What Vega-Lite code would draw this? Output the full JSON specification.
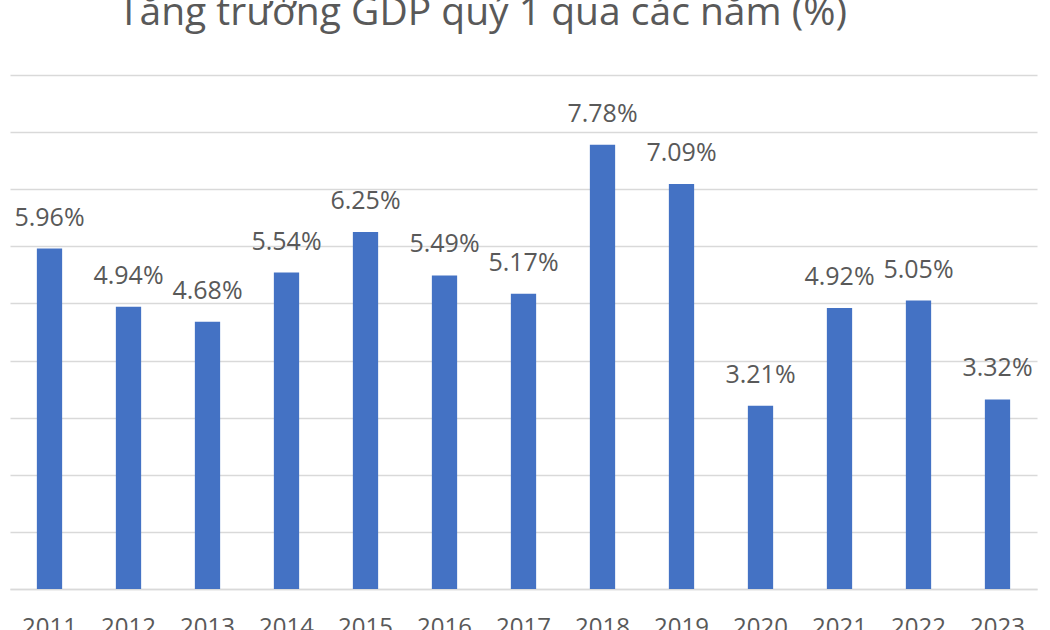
{
  "$schema": "https://vega.github.io/schema/vega-lite/v6.json",
  "width": 1027,
  "height": 514,
  "autosize": {"type": "none"},
  "padding": {"left": 10, "top": 75, "right": 13, "bottom": 41},
  "background": "white",
  "title": {
    "text": "Tăng trưởng GDP quý 1 qua các năm (%)",
    "font": "Open Sans",
    "fontSize": 39,
    "fontWeight": "normal",
    "color": "#595959",
    "anchor": "middle",
    "dx": -41,
    "baseline": "alphabetic",
    "offset": 11
  },
  "config": {"view": {"stroke": null}},
  "data": {
    "values": [
      {"year": "2011", "value": 5.96, "label": "5.96%"},
      {"year": "2012", "value": 4.94, "label": "4.94%"},
      {"year": "2013", "value": 4.68, "label": "4.68%"},
      {"year": "2014", "value": 5.54, "label": "5.54%"},
      {"year": "2015", "value": 6.25, "label": "6.25%"},
      {"year": "2016", "value": 5.49, "label": "5.49%"},
      {"year": "2017", "value": 5.17, "label": "5.17%"},
      {"year": "2018", "value": 7.78, "label": "7.78%"},
      {"year": "2019", "value": 7.09, "label": "7.09%"},
      {"year": "2020", "value": 3.21, "label": "3.21%"},
      {"year": "2021", "value": 4.92, "label": "4.92%"},
      {"year": "2022", "value": 5.05, "label": "5.05%"},
      {"year": "2023", "value": 3.32, "label": "3.32%"}
    ]
  },
  "encoding": {
    "x": {
      "field": "year",
      "type": "ordinal",
      "title": null,
      "scale": {"paddingInner": 0.68, "paddingOuter": 0.34},
      "axis": {
        "labelAngle": 0,
        "labelFont": "Open Sans",
        "labelFontSize": 24,
        "labelColor": "#595959",
        "labelPadding": 26,
        "ticks": false,
        "tickSize": 0,
        "domain": true,
        "domainColor": "#d9d9d9",
        "domainWidth": 1.5,
        "grid": false
      }
    },
    "y": {
      "field": "value",
      "type": "quantitative",
      "title": null,
      "scale": {"domain": [0, 9]},
      "axis": {
        "values": [0, 1, 2, 3, 4, 5, 6, 7, 8, 9],
        "labels": false,
        "ticks": false,
        "domain": false,
        "grid": true,
        "gridColor": "#d9d9d9",
        "gridWidth": 1.5
      }
    }
  },
  "layer": [
    {"mark": {"type": "bar", "color": "#4472C4"}},
    {
      "mark": {
        "type": "text",
        "font": "Open Sans",
        "fontSize": 25,
        "color": "#595959",
        "baseline": "alphabetic",
        "dy": -23
      },
      "encoding": {"text": {"field": "label"}}
    }
  ]
}
